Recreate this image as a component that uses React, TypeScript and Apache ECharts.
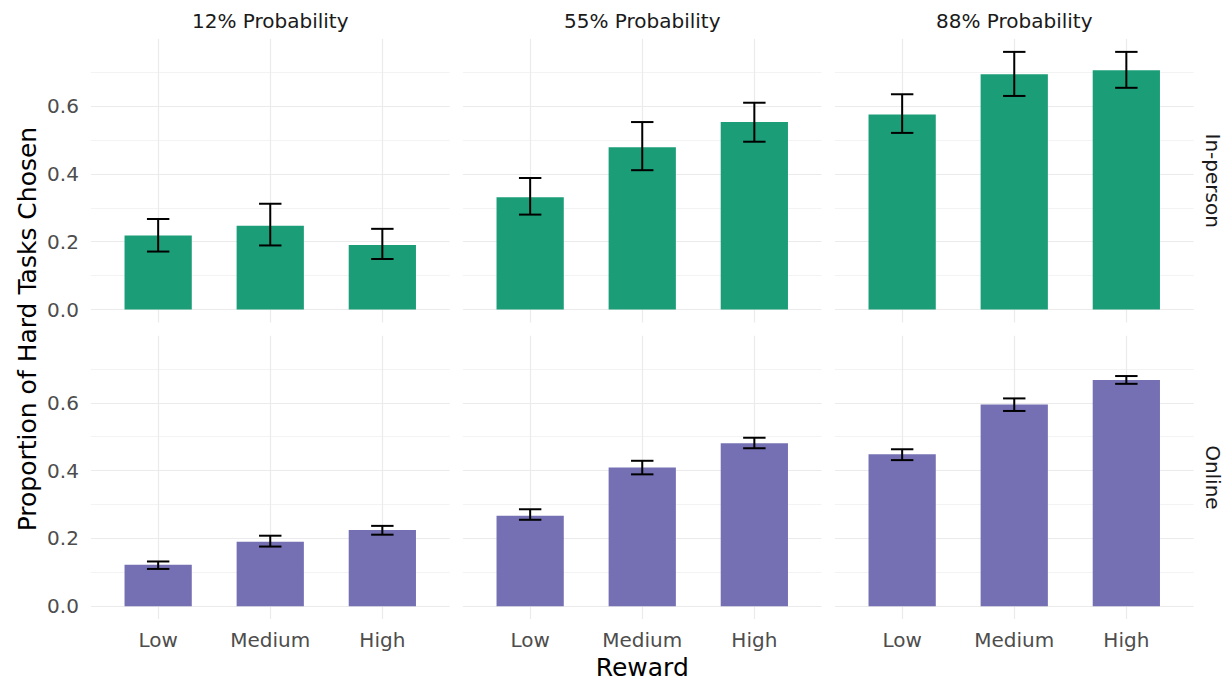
import React, { useEffect, useRef } from "react";
import * as echarts from "echarts";

const rewards = ["Low", "Medium", "High"];
const probabilities = ["12% Probability", "55% Probability", "88% Probability"];
const modes = ["In-person", "Online"];

// mean / lower / upper per probability panel (12%, 55%, 88%), reward order Low, Medium, High
const inPersonMean = [
  [0.218, 0.247, 0.19],
  [0.331, 0.479, 0.553],
  [0.575, 0.694, 0.706],
];
const inPersonLower = [
  [0.171, 0.189, 0.149],
  [0.28, 0.411, 0.495],
  [0.521, 0.63, 0.654],
];
const inPersonUpper = [
  [0.267, 0.312, 0.238],
  [0.388, 0.553, 0.61],
  [0.635, 0.76, 0.76],
];
const onlineMean = [
  [0.122, 0.19, 0.225],
  [0.267, 0.409, 0.481],
  [0.448, 0.595, 0.667],
];
const onlineLower = [
  [0.11, 0.176, 0.211],
  [0.255, 0.389, 0.466],
  [0.431, 0.576, 0.656],
];
const onlineUpper = [
  [0.132, 0.208, 0.237],
  [0.286, 0.429, 0.497],
  [0.463, 0.613, 0.679],
];

const yMajorTicks = [0, 0.2, 0.4, 0.6];
const yMinorTicks = [0.1, 0.3, 0.5, 0.7];
const modeColors = ["#1B9E77", "#7570B3"];

const FONT = "'DejaVu Sans', Verdana, sans-serif";

export default function App() {
  const ref = useRef<HTMLDivElement>(null);

  useEffect(() => {
    if (!ref.current) return;
    const chart = echarts.init(ref.current, undefined, { renderer: "svg" });

    const means = [inPersonMean, onlineMean];
    const lowers = [inPersonLower, onlineLower];
    const uppers = [inPersonUpper, onlineUpper];

    // ggplot-like continuous expansion (5%) of [0, max upper]
    const maxUp = Math.max(...uppers.flat(2));
    const yMin = -0.05 * maxUp;
    const yMax = maxUp * 1.05;

    const PW = 358.7;
    const PH = 283.4;
    const GAP = 13.3;
    const LEFT0 = 90.9;
    const TOP0 = 39.0;
    const xMin = 0.4;
    const xMax = 3.6;
    const xCenters = [1, 2, 3];

    const grids: any[] = [];
    const xAxes: any[] = [];
    const yAxes: any[] = [];
    const series: any[] = [];

    for (let r = 0; r < 2; r++) {
      for (let c = 0; c < 3; c++) {
        const idx = r * 3 + c;
        grids.push({
          left: LEFT0 + c * (PW + GAP),
          top: TOP0 + r * (PH + GAP),
          width: PW,
          height: PH,
          containLabel: false,
        });
        xAxes.push({
          gridIndex: idx,
          type: "value",
          min: xMin,
          max: xMax,
          splitLine: { show: false },
          axisLine: { show: false },
          axisTick: { show: false },
          axisLabel:
            r === 1
              ? {
                  show: true,
                  customValues: xCenters,
                  formatter: (v: number) => {
                    const i = Math.round(v) - 1;
                    return Math.abs(v - Math.round(v)) < 1e-6 && rewards[i] ? rewards[i] : "";
                  },
                  color: "#4D4D4D",
                  fontSize: 20,
                  fontFamily: FONT,
                  margin: 11,
                }
              : { show: false },
        });
        yAxes.push({
          gridIndex: idx,
          type: "value",
          min: yMin,
          max: yMax,
          splitLine: { show: false },
          axisLine: { show: false },
          axisTick: { show: false },
          axisLabel:
            c === 0
              ? {
                  show: true,
                  customValues: yMajorTicks,
                  formatter: (v: number) => v.toFixed(1),
                  color: "#4D4D4D",
                  fontSize: 20,
                  fontFamily: FONT,
                  margin: 12,
                }
              : { show: false },
        });

        const m = means[r][c];
        const lo = lowers[r][c];
        const hi = uppers[r][c];

        // grid lines (behind)
        series.push({
          type: "line",
          xAxisIndex: idx,
          yAxisIndex: idx,
          data: m.map((v, i) => [xCenters[i], v]),
          symbol: "none",
          lineStyle: { opacity: 0, width: 0 },
          silent: true,
          z: 0,
          markLine: {
            z: 0,
            silent: true,
            symbol: ["none", "none"],
            label: { show: false },
            animation: false,
            data: [
              ...yMajorTicks.map((v) => ({
                yAxis: v,
                lineStyle: { color: "#EBEBEB", width: 1.2, type: "solid" },
              })),
              ...yMinorTicks.map((v) => ({
                yAxis: v,
                lineStyle: { color: "#F0F0F0", width: 0.8, type: "solid" },
              })),
              ...xCenters.map((v) => ({
                xAxis: v,
                lineStyle: { color: "#EBEBEB", width: 1.2, type: "solid" },
              })),
            ],
          },
        });

        series.push({
          type: "bar",
          xAxisIndex: idx,
          yAxisIndex: idx,
          data: m.map((v, i) => [xCenters[i], v]),
          barWidth: (0.6 * PW) / (xMax - xMin),
          itemStyle: { color: modeColors[r] },
          z: 2,
        });

        series.push({
          type: "custom",
          xAxisIndex: idx,
          yAxisIndex: idx,
          z: 3,
          data: m.map((_, i) => [xCenters[i], lo[i], hi[i]]),
          encode: { x: 0, y: [1, 2] },
          renderItem: (params: any, api: any) => {
            const x = api.value(0);
            const top = api.coord([x, api.value(2)]);
            const bot = api.coord([x, api.value(1)]);
            const half = api.size([0.1, 0])[0];
            const style = { stroke: "#000000", lineWidth: 2 };
            return {
              type: "group",
              children: [
                { type: "line", shape: { x1: top[0], y1: top[1], x2: bot[0], y2: bot[1] }, style },
                { type: "line", shape: { x1: top[0] - half, y1: top[1], x2: top[0] + half, y2: top[1] }, style },
                { type: "line", shape: { x1: bot[0] - half, y1: bot[1], x2: bot[0] + half, y2: bot[1] }, style },
              ],
            };
          },
        });
      }
    }

    const graphics: any[] = [];
    probabilities.forEach((p, c) => {
      graphics.push({
        type: "text",
        x: LEFT0 + c * (PW + GAP) + PW / 2,
        y: 21,
        style: {
          text: p,
          fill: "#1A1A1A",
          fontSize: 20,
          fontFamily: FONT,
          align: "center",
          verticalAlign: "middle",
        },
      });
    });
    modes.forEach((m, r) => {
      graphics.push({
        type: "text",
        x: 1213,
        y: TOP0 + r * (PH + GAP) + PH / 2,
        rotation: -Math.PI / 2,
        style: {
          text: m,
          fill: "#1A1A1A",
          fontSize: 20,
          fontFamily: FONT,
          align: "center",
          verticalAlign: "middle",
        },
      });
    });
    graphics.push({
      type: "text",
      x: 27,
      y: TOP0 + PH + GAP / 2,
      rotation: Math.PI / 2,
      style: {
        text: "Proportion of Hard Tasks Chosen",
        fill: "#000000",
        fontSize: 25,
        fontFamily: FONT,
        align: "center",
        verticalAlign: "middle",
      },
    });
    graphics.push({
      type: "text",
      x: LEFT0 + (3 * PW + 2 * GAP) / 2,
      y: 667,
      style: {
        text: "Reward",
        fill: "#000000",
        fontSize: 25,
        fontFamily: FONT,
        align: "center",
        verticalAlign: "middle",
      },
    });

    chart.setOption({
      animation: false,
      backgroundColor: "#FFFFFF",
      grid: grids,
      xAxis: xAxes,
      yAxis: yAxes,
      series,
      graphic: graphics,
    });

    return () => chart.dispose();
  }, []);

  return (
    <div
      ref={ref}
      style={{ position: "fixed", left: 0, top: 0, width: 1230, height: 684 }}
    />
  );
}
